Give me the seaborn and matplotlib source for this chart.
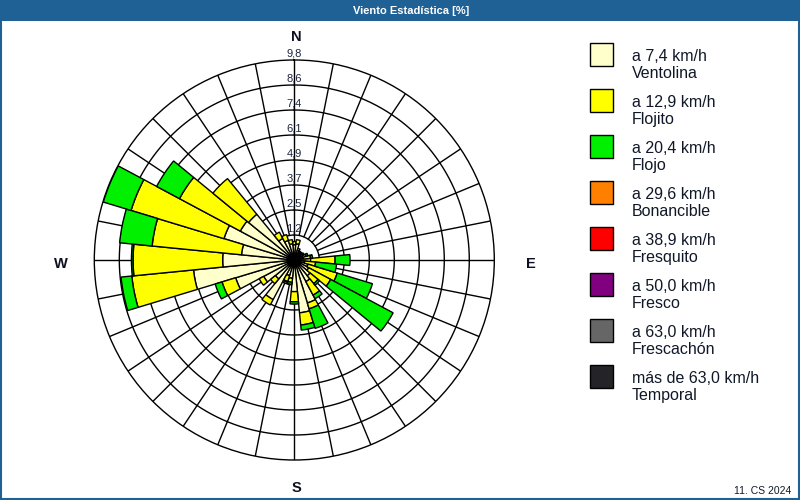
import numpy as np
import matplotlib
matplotlib.use("Agg")
import matplotlib.pyplot as plt
import seaborn as sns
from matplotlib.patches import Rectangle

sns.set_theme(style="white")
plt.rcParams['font.family'] = ['Liberation Sans', 'DejaVu Sans']

# ---------------- data ----------------
directions = ["N", "NxE", "NNE", "NExN", "NE", "NExE", "ENE", "ExN",
              "E", "ExS", "ESE", "SExE", "SE", "SExS", "SSE", "SxE",
              "S", "SxW", "SSW", "SWxS", "SW", "SWxW", "WSW", "WxS",
              "W", "WxN", "WNW", "NWxW", "NW", "NWxN", "NNW", "NxW"]

ventolina = [0.75, 0.80, 0.50, 0.40, 0.35, 0.35, 0.40, 0.45,
             0.80, 0.50, 0.70, 0.80, 1.00, 1.20, 2.20, 2.60,
             1.55, 0.90, 0.80, 2.20, 1.20, 1.70, 3.00, 4.96,
             3.51, 2.60, 3.60, 3.00, 2.90, 1.20, 1.00, 0.80]
flojito = [0.15, 0.20, 0.10, 0.10, 0.10, 0.15, 0.20, 0.35,
           1.20, 0.55, 1.50, 1.22, 0.50, 0.75, 0.30, 0.60,
           0.50, 0.20, 0.30, 0.30, 0.30, 0.25, 0.70, 3.04,
           4.39, 4.40, 4.76, 3.38, 2.26, 0.35, 0.30, 0.20]
flojo = [0.00, 0.00, 0.00, 0.00, 0.05, 0.05, 0.10, 0.10,
         0.73, 1.03, 1.80, 3.47, 0.10, 0.20, 1.00, 0.25,
         0.11, 0.10, 0.05, 0.00, 0.00, 0.00, 0.35, 0.53,
         0.08, 1.60, 1.42, 1.27, 0.00, 0.00, 0.00, 0.00]
bonancible = [0.0] * 32
fresquito = [0.0] * 32
fresco = [0.0] * 32
frescachon = [0.0] * 32
temporal = [0.0] * 32

speed_labels = ["a 7,4 km/h", "a 12,9 km/h", "a 20,4 km/h", "a 29,6 km/h",
                "a 38,9 km/h", "a 50,0 km/h", "a 63,0 km/h", "más de 63,0 km/h"]
class_names = ["Ventolina", "Flojito", "Flojo", "Bonancible",
               "Fresquito", "Fresco", "Frescachón", "Temporal"]
class_colors = ["#ffffcc", "#ffff00", "#00f000", "#ff8000",
                "#ff0000", "#800080", "#666666", "#242428"]
ring_labels = ["1,2", "2,5", "3,7", "4,9", "6,1", "7,4", "8,6", "9,8"]
r_max = 9.8
title = "Viento Estadística [%]"
footer = "11. CS 2024"

series = [ventolina, flojito, flojo, bonancible, fresquito, fresco, frescachon, temporal]

# ---------------- figure ----------------
W, H = 800, 500
fig = plt.figure(figsize=(8, 5), dpi=100)
fig.patch.set_facecolor("white")

bg = fig.add_axes([0, 0, 1, 1])
bg.set_xlim(0, W)
bg.set_ylim(H, 0)
bg.axis("off")

blue = "#1f6095"
bg.add_patch(Rectangle((0, 0), W, 20.5, facecolor=blue, edgecolor="none"))
bg.add_patch(Rectangle((0.75, 0.75), W - 1.5, H - 1.5, facecolor="none",
                       edgecolor=blue, lw=1.5))
bg.text(411, 10.5, title, color="white", fontsize=8, fontweight="bold",
        ha="center", va="center")
bg.text(791, 491.5, footer, color="#101828", fontsize=7.5, ha="right", va="center")

# compass letters
txtc = "#0c1020"
bg.text(296, 37, "N", fontsize=10.5, fontweight="bold", ha="center", va="center", color=txtc)
bg.text(296, 488, "S", fontsize=10.5, fontweight="bold", ha="center", va="center", color=txtc)
bg.text(61, 264, "W", fontsize=10.5, fontweight="bold", ha="center", va="center", color=txtc)
bg.text(531, 264, "E", fontsize=10.5, fontweight="bold", ha="center", va="center", color=txtc)

# legend
for i, (lab, name, col) in enumerate(zip(speed_labels, class_names, class_colors)):
    y0 = 43.3 + 46 * i
    bg.add_patch(Rectangle((590, y0), 23, 23, facecolor=col, edgecolor="black", lw=1))
    bg.text(632, y0 + 13.0, lab, fontsize=11.5, ha="left", va="center", color="#101828")
    bg.text(632, y0 + 30.5, name, fontsize=11.5, ha="left", va="center", color="#101828")

# polar wind rose
cx, cy, R = 294.3, 260.0, 200.0
ax = fig.add_axes([(cx - R) / W, (H - cy - R) / H, 2 * R / W, 2 * R / H],
                  projection="polar")
ax.set_facecolor("none")
ax.set_theta_zero_location("N")
ax.set_theta_direction(-1)
ax.set_ylim(0, r_max)
ax.grid(False)
ax.set_xticks([])
ax.set_yticks([])
ax.spines["polar"].set_color("black")
ax.spines["polar"].set_linewidth(1.0)

n = len(directions)
theta = np.arange(n) * 2 * np.pi / n
width = 2 * np.pi / n
rings = [r_max * (i + 1) / len(ring_labels) for i in range(len(ring_labels))]

tt = np.linspace(0, 2 * np.pi, 721)
for r in rings[:-1]:
    ax.plot(tt, np.full_like(tt, r), color="black", lw=1.0, zorder=1)
for i, t in enumerate(theta):
    r0 = 0 if i % 8 == 0 else rings[0]
    ax.plot([t, t], [r0, r_max], color="black", lw=1.0, zorder=1)

bottom = np.zeros(n)
for vals, col in zip(series, class_colors):
    vals = np.asarray(vals, dtype=float)
    m = vals > 0
    if m.any():
        ax.bar(theta[m], vals[m], width=width, bottom=bottom[m], color=col,
               edgecolor="black", linewidth=1.0, align="center", zorder=3)
    bottom = bottom + vals

for r, lab in zip(rings, ring_labels):
    ax.annotate(lab, xy=(0, r), xytext=(0, 5), textcoords="offset points",
                ha="center", va="center", fontsize=8, color="#1c2541",
                zorder=6, annotation_clip=False)

fig.savefig("out.png", dpi=100)
